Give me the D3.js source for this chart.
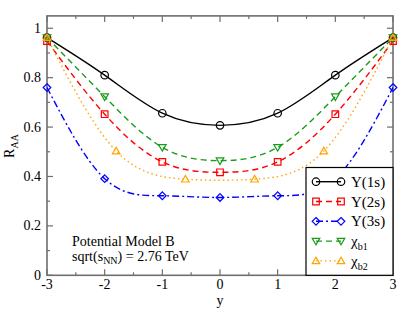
<!DOCTYPE html>
<html>
<head>
<meta charset="utf-8">
<script src="https://cdn.jsdelivr.net/npm/d3@7"></script>
<style>
  body { margin: 0; background: #fff; }
  text { font-family: "Liberation Serif", "Times New Roman", Times, serif; }
</style>
</head>
<body>
<div id="chart"></div>
<script>
// rapidity points where markers sit
var yPts = [-3, -2, -1, 0, 1, 2, 3];
var yPtsChi2 = [-3, -1.8, -0.6, 0.6, 1.8, 3];

var ups1s = [0.962, 0.81, 0.656, 0.607, 0.656, 0.81, 0.962];
var ups2s = [0.948, 0.652, 0.459, 0.417, 0.459, 0.652, 0.948];
var ups3s = [0.76, 0.391, 0.322, 0.315, 0.322, 0.391, 0.76];
var chib1 = [0.962, 0.723, 0.518, 0.464, 0.518, 0.723, 0.962];
var chib2 = [0.962, 0.503, 0.389, 0.389, 0.503, 0.962];

var xTicks = [-3, -2, -1, 0, 1, 2, 3];
var yTicks = [0, 0.2, 0.4, 0.6, 0.8, 1];

var series = [
  {name: "Υ(1s)", sub: null, x: yPts, v: ups1s, color: "#000000", dash: null, marker: "circle"},
  {name: "Υ(2s)", sub: null, x: yPts, v: ups2s, color: "#ff0000", dash: "6,4", marker: "square"},
  {name: "Υ(3s)", sub: null, x: yPts, v: ups3s, color: "#0000ff", dash: "7,3,2,3", marker: "diamond"},
  {name: "χ", sub: "b1", x: yPts, v: chib1, color: "#1a9c1a", dash: "6,4", marker: "tridown"},
  {name: "χ", sub: "b2", x: yPtsChi2, v: chib2, color: "#ffa500", dash: "1.5,3", marker: "triup"}
];

var width = 407, height = 315;
var svg = d3.select("#chart").append("svg")
  .attr("width", width).attr("height", height);

var x = d3.scaleLinear().domain([-3, 3]).range([47, 393]);
var y = d3.scaleLinear().domain([0, 1.05]).range([275.3, 15.9]);

var frame = "#6e6e6e";

// ticks on all four sides, pointing inward
function drawTicks() {
  var g = svg.append("g").attr("stroke", frame).attr("stroke-width", 1.2);
  d3.range(-3, 3.01, 0.5).forEach(function(t) {
    var len = (Math.abs(t - Math.round(t)) < 1e-6) ? 6 : 3;
    g.append("line").attr("x1", x(t)).attr("x2", x(t)).attr("y1", y(0)).attr("y2", y(0) - len);
    g.append("line").attr("x1", x(t)).attr("x2", x(t)).attr("y1", y(1.05)).attr("y2", y(1.05) + len);
  });
  d3.range(0, 1.001, 0.1).forEach(function(t) {
    var len = (Math.round(t * 10) % 2 === 0) ? 6 : 3;
    g.append("line").attr("y1", y(t)).attr("y2", y(t)).attr("x1", x(-3)).attr("x2", x(-3) + len);
    g.append("line").attr("y1", y(t)).attr("y2", y(t)).attr("x1", x(3)).attr("x2", x(3) - len);
  });
}
drawTicks();

svg.append("rect")
  .attr("x", x(-3)).attr("y", y(1.05))
  .attr("width", x(3) - x(-3)).attr("height", y(0) - y(1.05))
  .attr("fill", "none").attr("stroke", frame).attr("stroke-width", 1.6);

// tick labels
svg.selectAll(".xl").data(xTicks).enter().append("text")
  .attr("x", function(d) { return x(d); })
  .attr("y", 288.5)
  .attr("text-anchor", "middle")
  .attr("font-size", 14)
  .text(function(d) { return d; });

svg.selectAll(".yl").data(yTicks).enter().append("text")
  .attr("x", 41)
  .attr("y", function(d) { return y(d) + 4.5; })
  .attr("text-anchor", "end")
  .attr("font-size", 14)
  .text(function(d) { return d; });

// axis titles
svg.append("text").attr("x", x(0)).attr("y", 305)
  .attr("text-anchor", "middle").attr("font-size", 14).text("y");

var yt = svg.append("text")
  .attr("transform", "translate(14,146) rotate(-90)")
  .attr("text-anchor", "middle").attr("font-size", 14);
yt.append("tspan").text("R");
yt.append("tspan").attr("font-size", 10).attr("dy", 4).text("AA");

// curves
var line = d3.line()
  .x(function(d) { return x(d[0]); })
  .y(function(d) { return y(d[1]); })
  .curve(d3.curveNatural);

function markerPath(type) {
  if (type === "circle") return d3.symbol().type(d3.symbolCircle).size(44)();
  if (type === "square") return "M-3.3,-3.3H3.3V3.3H-3.3Z";
  if (type === "diamond") return "M0,-3.8L3.8,0L0,3.8L-3.8,0Z";
  if (type === "tridown") return "M-3.8,-2.8L3.8,-2.8L0,3.8Z";
  if (type === "triup") return "M-3.8,2.8L3.8,2.8L0,-3.8Z";
}

series.forEach(function(s) {
  var pts = s.x.map(function(xv, i) { return [xv, s.v[i]]; });
  svg.append("path")
    .attr("d", line(pts))
    .attr("fill", "none")
    .attr("stroke", s.color)
    .attr("stroke-width", 1.4)
    .attr("stroke-dasharray", s.dash);
  svg.selectAll(null).data(pts).enter().append("path")
    .attr("d", markerPath(s.marker))
    .attr("transform", function(d) { return "translate(" + x(d[0]) + "," + y(d[1]) + ")"; })
    .attr("fill", "none")
    .attr("stroke", s.color)
    .attr("stroke-width", 1.2);
});

// legend
var lg = svg.append("g");
lg.append("rect")
  .attr("x", 306).attr("y", 167.5)
  .attr("width", x(3) - 306).attr("height", y(0) - 167.5)
  .attr("fill", "#fff").attr("stroke", "#000").attr("stroke-width", 1.2);

series.forEach(function(s, i) {
  var ly = 181.7 + i * 19.8;
  lg.append("line").attr("x1", 316).attr("x2", 341).attr("y1", ly).attr("y2", ly)
    .attr("stroke", s.color).attr("stroke-width", 1.4).attr("stroke-dasharray", s.dash);
  [316, 341].forEach(function(px) {
    lg.append("path").attr("d", markerPath(s.marker))
      .attr("transform", "translate(" + px + "," + ly + ")")
      .attr("fill", "none").attr("stroke", s.color).attr("stroke-width", 1.2);
  });
  var t = lg.append("text").attr("x", 351).attr("y", ly + 5).attr("font-size", 15);
  t.append("tspan").text(s.name);
  if (s.sub) t.append("tspan").attr("font-size", 10).attr("dy", 4).text(s.sub);
});

// annotation
svg.append("text").attr("x", 72).attr("y", 246).attr("font-size", 14).text("Potential Model B");
var ann = svg.append("text").attr("x", 72).attr("y", 261).attr("font-size", 14);
ann.append("tspan").text("sqrt(s");
ann.append("tspan").attr("font-size", 10).attr("dy", 3).text("NN");
ann.append("tspan").attr("dy", -3).text(") = 2.76 TeV");
</script>
</body>
</html>
